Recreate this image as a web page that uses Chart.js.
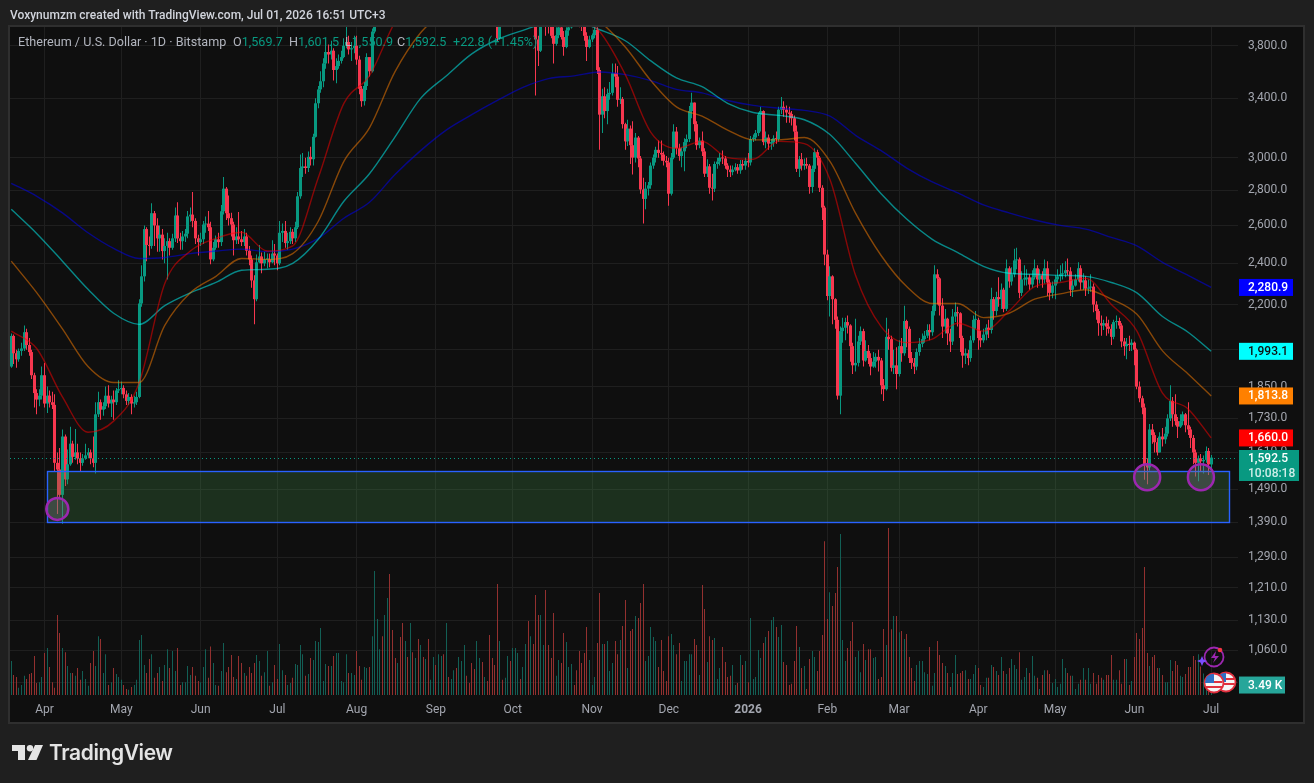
<!DOCTYPE html>
<html>
<head>
<meta charset="utf-8">
<title>ETH/USD daily</title>
<script src="https://cdn.jsdelivr.net/npm/chart.js@4/dist/chart.umd.min.js"></script>
<style>
    html, body { margin: 0; padding: 0; background: #1f1f1f; }
    #wrap { position: relative; width: 1314px; height: 783px; overflow: hidden; font-family: Roboto, sans-serif; }
    #wrap canvas { position: absolute; left: 0; top: 0; }
    .txt { position: absolute; white-space: nowrap; font-size: 12.6px; line-height: 16px; color: #b2b5be; }
    .up { color: #089981; }
    #maker { left: 10px; top: 7px; color: #d1d4dc; font-weight: 500; font-size: 12px; }
    #logoText { left: 49px; top: 739px; font-size: 21px; line-height: 28px; font-weight: 600; color: #e4e4e4; font-family: Inter, sans-serif; letter-spacing: -0.4px; }
    svg { position: absolute; }
</style>
</head>
<body>
<div id="wrap">
    <canvas id="ethChart" width="1314" height="783"></canvas>
    <div class="txt" id="maker">Voxynumzm created with TradingView.com, Jul 01, 2026 16:51 UTC+3</div>
    <div class="txt" style="left:18px;top:34px">Ethereum / U.S. Dollar · 1D · Bitstamp</div>
    <div class="txt" style="left:233px;top:34px">O<span class="up">1,569.7</span></div>
    <div class="txt" style="left:289px;top:34px">H<span class="up">1,601.5</span></div>
    <div class="txt" style="left:345px;top:34px">L<span class="up">1,550.9</span></div>
    <div class="txt" style="left:397px;top:34px">C<span class="up">1,592.5</span></div>
    <div class="txt up" style="left:453px;top:34px">+22.8 (+1.45%)</div>

    <!-- logo mark -->
    <svg style="left:12px;top:745px" width="31" height="16" viewBox="0 0 31 16" fill="#e4e4e4">
        <path d="M0 0h13v15H6V6H0z"/><circle cx="18" cy="3.2" r="3.2"/><path d="M23 0h8l-6.5 15H16z"/>
    </svg>
    <div class="txt" id="logoText">TradingView</div>

    <!-- chart badges near the last bar -->
    <svg style="left:1195px;top:640px" width="45" height="60" viewBox="0 0 45 60">
        <circle cx="19" cy="17" r="9.5" fill="none" stroke="#9c27b0" stroke-width="1.8"/>
        <path d="M21 11l-5 7h4l-2 5 6-7h-4z" fill="#9c27b0"/>
        <circle cx="25" cy="10" r="2.3" fill="#f23645"/>
        <path d="M7 16l1.5 3.5L12 21l-3.5 1.5L7 26l-1.5-3.5L2 21l3.5-1.5z" fill="#7c4dff"/>
        <g>
            <circle cx="31" cy="42" r="9.5" fill="#f5f5f5" stroke="#e0303e" stroke-width="1.8"/>
            <path d="M22.5 39h17M22.5 44h17" stroke="#e0303e" stroke-width="2"/>
            <path d="M23 37a8.6 8.6 0 0 1 8-4v9h-9z" fill="#2f6fc4"/>
        </g>
        <g>
            <circle cx="19" cy="43" r="9.5" fill="#f5f5f5" stroke="#e0303e" stroke-width="1.8"/>
            <path d="M10.5 42h17M10.5 47h17" stroke="#e0303e" stroke-width="2"/>
            <path d="M11 38a8.6 8.6 0 0 1 8-4v9h-9z" fill="#2f6fc4"/>
        </g>
    </svg>
</div>

<script>
// daily candles from 2025-03-19 on, in USD
const firstOpen = 1930;
const closes = [
    2059,1985,1960,1995,2005,2075,2020,1990,1895,1825,
    1800,1815,1895,1785,1815,1790,1780,1575,1553,1472,
    1665,1521,1570,1640,1595,1610,1590,1575,1590,1600,
    1610,1590,1575,1745,1790,1762,1775,1815,1785,1800,
    1790,1835,1840,1845,1820,1795,1810,1785,1790,1810,
    2205,2335,2580,2495,2490,2668,2600,2530,2550,2463,
    2490,2515,2480,2530,2655,2530,2515,2540,2555,2650,
    2660,2625,2530,2510,2525,2605,2610,2590,2420,2480,
    2525,2510,2679,2810,2668,2640,2605,2520,2540,2525,
    2510,2540,2465,2420,2315,2225,2405,2435,2400,2420,
    2420,2405,2450,2440,2400,2560,2570,2505,2515,2565,
    2530,2590,2765,2935,2945,2935,3005,2990,3135,3365,
    3465,3525,3660,3750,3730,3760,3610,3640,3680,3710,
    3800,3830,3770,3780,3800,3690,3470,3380,3490,3710,
    3600,3915,4010,4255,4260,4220,4600,4750,4550,4440,
    4380,4475,4310,4075,4340,4225,4830,4780,4780,4380,
    4600,4510,4510,4360,4370,4390,4310,4325,4450,4300,
    4310,4275,4300,4310,4305,4350,4455,4715,4665,4605,
    4525,4500,4590,4595,4470,4480,4450,4200,4165,4150,
    3860,4030,4010,4140,4215,4145,4350,4485,4515,4490,
    4515,4690,4450,4525,4370,3850,3760,4160,4250,3990,
    3980,3880,3815,3885,3950,3870,3790,3925,3950,4150,
    4120,4100,4020,3980,3880,3790,3850,3885,3930,3610,
    3285,3415,3310,3430,3440,3585,3560,3390,3395,3220,
    3105,3190,3080,3000,3130,2995,2805,2750,2810,2830,
    2950,3000,3050,3030,3020,2980,2970,2780,3000,3170,
    3060,3010,3040,3100,3120,3310,3370,3220,3080,3110,
    3040,2900,2945,2815,2810,2960,2975,3000,2995,2950,
    2925,2910,2925,2940,2920,2960,2950,2980,2970,3120,
    3130,3160,3285,3310,3100,3130,3090,3100,3125,3120,
    3320,3340,3320,3300,3290,3260,3170,2930,2990,2950,
    2960,2950,2820,2930,3035,3000,2815,2700,2445,2240,
    2335,2225,2130,1815,2080,2095,2120,2105,2015,1935,
    1945,2035,2080,1955,1995,1965,1930,1950,1970,1955,
    1855,1840,2055,2045,1925,1935,1900,2015,1985,2125,
    2090,1965,1945,1930,1990,2025,2045,2060,2085,2075,
    2170,2345,2325,2195,2100,2135,2070,2035,2145,2165,
    2160,2050,1975,1985,1965,2040,2130,2130,2050,2040,
    2065,2095,2085,2225,2170,2235,2225,2270,2180,2375,
    2310,2345,2415,2420,2255,2320,2320,2330,2295,2330,
    2375,2320,2340,2320,2375,2305,2255,2290,2320,2335,
    2345,2350,2365,2360,2270,2290,2320,2375,2305,2315,
    2275,2280,2285,2200,2170,2115,2105,2115,2100,2090,
    2055,2120,2125,2105,2035,2015,2025,2020,2030,2000,
    1850,1805,1770,1570,1560,1690,1670,1645,1610,1665,
    1655,1675,1730,1795,1745,1720,1700,1720,1745,1705,
    1690,1660,1610,1575,1590,1580,1585,1615,1569.7,1592.5
];
const highs = [
    2070,2065,2000,2005,2030,2105,2090,2050,2000,1905,
    1840,1840,1930,1945,1850,1835,1830,1820,1610,1625,
    1690,1672,1620,1700,1650,1692,1640,1610,1605,1640,
    1625,1620,1665,1790,1830,1800,1790,1850,1855,1815,
    1835,1845,1875,1870,1855,1835,1825,1820,1815,1830,
    2225,2390,2600,2590,2540,2725,2680,2640,2600,2580,
    2530,2560,2530,2555,2700,2730,2560,2570,2580,2680,
    2700,2790,2640,2550,2560,2625,2650,2680,2620,2510,
    2545,2560,2715,2880,2820,2770,2670,2620,2590,2675,
    2570,2580,2560,2490,2440,2340,2445,2495,2455,2460,
    2450,2450,2520,2500,2450,2625,2610,2625,2560,2590,
    2580,2620,2790,3020,3030,3000,3040,3070,3155,3400,
    3490,3600,3700,3860,3810,3840,3780,3700,3730,3760,
    3860,3960,3880,3830,3880,3880,3720,3490,3520,3740,
    3700,3940,4060,4300,4340,4360,4640,4790,4780,4680,
    4480,4490,4480,4320,4380,4350,4880,4950,4800,4780,
    4620,4650,4600,4530,4410,4500,4400,4400,4490,4480,
    4490,4320,4320,4380,4390,4380,4480,4770,4770,4680,
    4650,4530,4620,4640,4610,4490,4490,4450,4240,4190,
    4180,4050,4040,4150,4250,4230,4360,4510,4540,4590,
    4540,4750,4760,4540,4530,4390,3880,4180,4290,4240,
    4100,4030,4020,3950,4020,4050,3920,3950,4000,4170,
    4250,4200,4170,4030,3990,3910,3880,3900,3960,3950,
    3630,3470,3480,3470,3520,3660,3660,3640,3480,3410,
    3230,3250,3210,3240,3160,3140,3010,2875,2850,2850,
    2970,3020,3070,3110,3110,3040,3010,3000,3030,3220,
    3200,3090,3065,3125,3150,3345,3440,3370,3240,3130,
    3170,3060,2990,2960,2900,2975,3000,3030,3045,3010,
    2965,2950,2950,2965,2960,2985,2985,3000,3030,3140,
    3150,3180,3300,3340,3315,3170,3150,3120,3145,3170,
    3340,3410,3380,3350,3340,3310,3280,3210,3010,3030,
    2995,3000,2960,2950,3060,3050,3010,2830,2710,2470,
    2385,2340,2230,2145,2100,2140,2140,2150,2110,2030,
    2135,2060,2100,2090,2040,2020,1985,1990,1985,2000,
    1965,1880,2140,2090,2060,2000,2010,2040,2050,2195,
    2130,2100,1990,1965,2005,2050,2070,2080,2110,2110,
    2195,2390,2370,2330,2230,2180,2140,2090,2180,2210,
    2190,2165,2060,2005,2000,2060,2150,2170,2140,2080,
    2090,2110,2130,2280,2235,2260,2330,2300,2280,2420,
    2385,2380,2475,2480,2430,2360,2390,2370,2345,2365,
    2420,2390,2370,2360,2420,2410,2320,2310,2340,2370,
    2390,2400,2410,2425,2380,2320,2345,2405,2390,2350,
    2335,2320,2345,2300,2215,2180,2150,2130,2145,2130,
    2110,2130,2150,2140,2115,2050,2050,2060,2045,2035,
    2005,1870,1815,1785,1590,1710,1710,1680,1660,1680,
    1695,1700,1745,1855,1810,1820,1735,1745,1755,1750,
    1790,1700,1670,1620,1600,1605,1600,1630,1625,1601.5
];
const lows = [
    1925,1940,1925,1950,1975,1995,2000,1975,1880,1770,
    1745,1775,1800,1770,1750,1770,1765,1545,1414,1465,
    1385,1500,1505,1565,1575,1585,1570,1545,1565,1585,
    1590,1570,1560,1540,1735,1725,1740,1765,1770,1735,
    1725,1780,1825,1820,1805,1780,1780,1745,1770,1780,
    1805,2190,2310,2410,2440,2475,2490,2460,2460,2420,
    2400,2320,2440,2470,2510,2505,2470,2470,2510,2530,
    2620,2590,2500,2440,2490,2500,2560,2570,2395,2410,
    2470,2480,2490,2660,2630,2600,2540,2440,2500,2500,
    2490,2490,2440,2390,2280,2110,2215,2400,2350,2385,
    2375,2380,2400,2390,2365,2390,2510,2480,2470,2500,
    2500,2510,2580,2750,2880,2900,2910,2950,2950,3130,
    3330,3440,3480,3620,3660,3690,3530,3510,3620,3660,
    3700,3780,3730,3680,3740,3650,3430,3340,3350,3460,
    3560,3590,3900,3990,4160,4150,4200,4590,4450,4400,
    4340,4360,4220,4060,4060,4200,4220,4650,4700,4350,
    4320,4480,4440,4280,4260,4350,4250,4280,4290,4260,
    4270,4250,4240,4270,4280,4280,4330,4430,4630,4560,
    4490,4470,4440,4550,4440,4460,4430,4080,4130,4110,
    3830,3850,3990,3980,4090,4110,4135,4330,4470,4470,
    4450,4490,4430,4400,4320,3420,3640,3750,4100,3880,
    3900,3860,3660,3800,3860,3850,3720,3780,3880,3940,
    4060,3960,3950,3920,3840,3680,3780,3830,3860,3580,
    3050,3160,3260,3220,3390,3420,3480,3340,3360,3190,
    3050,3075,2960,2895,2970,2940,2780,2610,2690,2770,
    2810,2930,2970,3000,2980,2950,2940,2710,2770,2990,
    3020,2980,2940,2915,3060,3100,3260,3170,3050,3060,
    3010,2880,2880,2780,2740,2790,2930,2950,2960,2930,
    2880,2880,2890,2915,2900,2900,2925,2925,2940,2950,
    3100,3110,3140,3170,3080,3060,3050,3050,3070,3090,
    3100,3290,3270,3230,3230,3210,3110,2910,2880,2920,
    2925,2930,2780,2785,2910,2950,2790,2630,2390,2220,
    2145,2110,2090,1800,1745,2030,2040,2070,1950,1900,
    1910,1930,2020,1930,1950,1940,1895,1925,1925,1910,
    1820,1795,1835,2000,1910,1900,1840,1890,1950,1975,
    2010,1945,1920,1900,1915,1975,2010,2030,2050,2040,
    2060,2150,2200,2150,2050,2070,2020,1990,2020,2120,
    2100,1990,1925,1940,1935,1950,2030,2090,2000,2010,
    2030,2040,2050,2070,2130,2150,2190,2180,2165,2170,
    2280,2290,2330,2370,2230,2240,2290,2290,2270,2280,
    2320,2280,2300,2280,2300,2240,2220,2230,2225,2300,
    2310,2320,2330,2340,2240,2235,2285,2310,2270,2270,
    2240,2250,2260,2165,2130,2060,2060,2085,2060,2070,
    2020,2045,2090,2090,2010,1975,1960,1995,1995,1935,
    1840,1790,1745,1520,1505,1550,1640,1610,1600,1610,
    1630,1640,1665,1720,1700,1705,1660,1695,1705,1680,
    1670,1625,1570,1530,1515,1545,1540,1575,1535,1550.9
];
// volume in thousands of ETH
const volumes = [
    11.9,7,6.3,2.5,3.5,6.7,5.6,7.4,7.7,13.7,
    4.2,4.5,6.3,14.7,16.5,9.8,4.5,2.5,28,21.7,
    16.5,15,10.2,7.7,7.7,6.7,9.5,5.3,8.4,5.6,
    3.2,11.2,15.4,10.2,20.6,19.6,7.7,14.3,3.5,4.5,
    9.5,7.4,6.3,5.3,3.5,2.1,1.8,2.8,3.5,5.3,
    19.3,21,10.5,7.7,12.6,14.3,6,7.7,9.8,4.9,
    10.5,16,9.5,15.4,8.4,16.5,3.5,4.5,4.5,10.2,
    7,9.8,6.7,4.9,4.5,9.8,16,6,17,11.2,
    3.5,3.2,8.4,18.2,8,9.8,14,6.3,5.6,13.7,
    11.2,7.7,6.7,9.8,7.7,11.2,14,11.9,6.7,8,
    15.4,3.2,4.5,10.5,5.6,17.9,8.7,7,3.5,4.2,
    6,10.9,10.5,17.5,14.3,6.7,7.4,13,12.3,18.9,
    18.6,23.5,4.9,10.9,10.2,10.2,13.7,14.7,14.7,4.9,
    4.5,14.3,7.7,7.7,7,15.4,10.2,5.3,9.8,9.5,
    9.8,20.6,43.4,26.6,16,20.6,28,34,42.4,22.8,
    13,11.2,20.3,25.2,18.9,13.3,25.2,15,13,19.6,
    17.5,13.3,12.6,19.6,5.3,13.3,10.5,14.3,13.7,14.3,
    25.2,6.3,5.6,8.7,9.5,13.3,11.9,17.5,6.7,4.2,
    11.2,9.1,18.9,13,11.6,6.3,4.9,21,13,10.5,
    38.9,18.9,5.3,6,13.7,11.9,16.5,16.5,14.7,5.6,
    9.8,17.9,25.9,20.6,17.9,35,28,28,17.5,36.8,
    17.5,13,28.7,6.7,12.3,11.2,21.7,18.6,9.8,10.9,
    3.5,8.7,15.4,11.2,14.7,23.8,12.3,3.5,6.3,18.2,
    35.7,17.9,17.9,18.9,8.4,11.2,18.9,14.3,19.3,24.2,
    33.3,9.5,22.4,23.1,27.7,27,32.2,38.9,11.9,13.7,
    23.8,20.3,18.9,9.8,19.3,8.4,4.9,20.6,21.4,17.5,
    14.3,18.2,4.9,11.9,11.9,14.3,14.3,19.6,17.5,7,
    38.5,30.1,11.6,20.6,19.3,20,5.6,9.5,16.8,11.6,
    6.3,6.7,10.5,3.5,4.2,14,10.5,11.9,4.5,27,
    5.6,6.3,15.8,13,18.2,20.3,22.4,26.3,27.3,23.8,
    20.3,24.5,11.6,10.5,3.5,3.9,11.9,24.2,16.8,9.5,
    10.2,2.1,12.6,15.4,13.3,8.4,15.4,21,53.9,26.6,
    36,31.2,35.7,44.8,56.4,19.3,11.9,16.5,18.9,25.6,
    13.3,15.4,8,17.9,12.3,16,16,13,13.3,5.6,
    6.3,23.1,17.5,58.5,23,27.7,27.7,22,22.4,19.6,
    21.4,13.3,9.5,4.9,10.5,11.9,11.9,8,7.4,16.8,
    3.2,7.7,18.9,14,11.2,10.2,7.7,2.8,7.7,14,
    7.4,7.7,8.4,8.7,5.6,5.6,7.4,10.5,9.5,3.5,
    2.8,6,6,10.5,9.8,8.4,7,13.3,8.4,7.4,
    9.5,12.6,10.5,9.1,15,5.3,6.3,9.5,7.7,13.7,
    6.7,6,2.1,7,8.7,8.7,7.4,4.2,5.6,2.8,
    3.9,12.6,9.5,7.7,6.7,6.7,2.1,3.9,5.3,9.5,
    5.3,9.5,3.9,7.7,3.9,7,6,5.3,7,7,
    14,5.3,5.3,8.7,3.9,12.6,12.6,3.5,4.9,13.3,
    21.7,19.6,23.5,44.8,14.7,10.2,13.3,14,9.5,9.5,
    7,4.5,4.5,12.3,8.4,11.9,10.5,6.7,6.3,7.4,
    9.8,9.8,13.7,12.3,14.3,10,7.5,6.4,5.8,3.49
];

// moving averages, one reading every ten bars plus the last bar
const maBars = [0,10,20,30,40,50,60,70,80,90,100,110,120,130,140,150,160,170,180,190,200,210,220,230,240,250,260,270,280,290,300,310,320,330,340,350,360,370,380,390,400,410,420,430,440,450,460,469];
const maRed = [2080,2004,1810,1680,1720,1865,2300,2463,2530,2563,2463,2490,2875,3364,3567,3996,4300,4400,4420,4420,4350,4200,4050,3914,3575,3165,3060,3105,3000,2990,3105,3090,2865,2340,2100,2030,2045,2115,2080,2170,2285,2305,2325,2200,2080,1825,1765,1660];
const maOrange = [2411,2255,2090,1930,1866,1866,2105,2255,2335,2425,2420,2450,2623,2977,3195,3597,3905,4100,4300,4350,4350,4250,4150,4000,3790,3530,3340,3275,3180,3115,3115,3130,2977,2668,2440,2285,2205,2205,2140,2160,2225,2250,2270,2225,2155,1995,1900,1813.8];
const maTeal = [2690,2555,2411,2272,2160,2110,2195,2255,2305,2365,2370,2400,2525,2736,2900,3135,3400,3565,3735,3850,3925,3990,4000,3930,3840,3680,3550,3485,3365,3300,3280,3250,3150,2965,2780,2635,2525,2455,2385,2350,2345,2340,2335,2305,2255,2145,2075,1993.1];
const maBlue = [2842,2765,2670,2560,2477,2425,2430,2450,2463,2473,2460,2473,2530,2640,2730,2895,3045,3180,3285,3385,3480,3545,3565,3595,3575,3530,3465,3440,3385,3350,3330,3315,3275,3145,3045,2935,2850,2785,2715,2670,2630,2600,2580,2535,2490,2405,2340,2280.9];

const priceTicks = [3800,3400,3000,2800,2600,2400,2200,2000,1850,1730,1610,1490,1390,1290,1210,1130,1060,990];
const monthNames = ['2026','Feb','Mar','Apr','May','Jun','Jul','Aug','Sep','Oct','Nov','Dec'];

// demand zone and the three marked lows
const zoneTop = 1547, zoneBottom = 1390, zoneFromBar = 14, zoneToBar = 476;
const ringBars = [18, 444, 465];
const ringPrices = [1429, 1528, 1528];

const upColor = '#089981', downColor = '#f7374f';
const upVolColor = '#125f55', downVolColor = '#93302f';

// one slot per day, with some empty room after the last bar
const categories = [];
const monthLabels = {};
for (let i = 0; i < 480; i++) {
    const d = new Date(Date.UTC(2025, 2, 19 + i));
    categories.push(d.toISOString().slice(0, 10));
    if (d.getUTCDate() === 1) monthLabels[i] = monthNames[d.getUTCMonth()];
}
const monthTicks = Object.keys(monthLabels).map(Number);

const opens = [firstOpen, ...closes.slice(0, -1)];
const isUp = closes.map((c, i) => c >= opens[i]);
const candleColors = isUp.map(u => u ? upColor : downColor);
const volumeColors = isUp.map(u => u ? upVolColor : downVolColor);
const lastClose = closes[closes.length - 1];

function maLine(values, color) {
    return {
        type: 'line',
        yAxisID: 'y',
        data: values.map((v, k) => ({ x: categories[maBars[k]], y: v })),
        borderColor: color,
        borderWidth: 1.4,
        pointRadius: 0,
        cubicInterpolationMode: 'monotone',
        order: 1
    };
}

function badge(ctx, x, y, w, h, bg, fg, text) {
    ctx.fillStyle = bg;
    ctx.fillRect(x, y - h / 2, w, h);
    ctx.fillStyle = fg;
    ctx.font = '500 12px Roboto, sans-serif';
    ctx.textAlign = 'left';
    ctx.textBaseline = 'middle';
    ctx.fillText(text, x + 9, y + 0.5);
}

// keeps the thin bars on whole pixels
const snapBars = {
    id: 'snapBars',
    afterDatasetsUpdate(chart) {
        chart.data.datasets.forEach((ds, i) => {
            if (ds.type === 'line') return;
            chart.getDatasetMeta(i).data.forEach(el => {
                el.x = Math.floor(el.x) + 0.5;
            });
        });
    }
};

const panel = {
    id: 'panel',
    beforeDraw(chart) {
        const ctx = chart.ctx;
        ctx.fillStyle = '#0f0f0f';
        ctx.fillRect(10, 27, 1293, 695);
        ctx.strokeStyle = '#2f2f2f';
        ctx.lineWidth = 2;
        ctx.strokeRect(9, 26, 1295, 697);
    }
};

const overlays = {
    id: 'overlays',
    afterDatasetsDraw(chart) {
        const ctx = chart.ctx, x = chart.scales.x, y = chart.scales.y, v = chart.scales.vol;
        const area = chart.chartArea;
        ctx.save();

        // zone rectangle
        const zx = Math.round(x.getPixelForValue(zoneFromBar)) + 0.5, zw = Math.round(x.getPixelForValue(zoneToBar)) + 0.5 - zx;
        const zy = Math.round(y.getPixelForValue(zoneTop)) + 0.5, zh = Math.round(y.getPixelForValue(zoneBottom)) + 0.5 - zy;
        ctx.fillStyle = 'rgba(65,135,72,0.28)';
        ctx.fillRect(zx, zy, zw, zh);
        ctx.strokeStyle = '#2962ff';
        ctx.lineWidth = 1.4;
        ctx.strokeRect(zx, zy, zw, zh);

        // rings round the lows
        ringBars.forEach((bar, i) => {
            ctx.beginPath();
            ctx.arc(x.getPixelForValue(bar), y.getPixelForValue(ringPrices[i]), i === 0 ? 11 : 13, 0, Math.PI * 2);
            ctx.fillStyle = 'rgba(120,123,134,0.35)';
            ctx.fill();
            ctx.strokeStyle = '#9c27b0';
            ctx.lineWidth = 2.5;
            ctx.stroke();
        });

        // last price line
        const py = Math.round(y.getPixelForValue(lastClose)) + 0.5;
        ctx.strokeStyle = upColor;
        ctx.lineWidth = 1;
        ctx.setLineDash([1, 3]);
        ctx.beginPath();
        ctx.moveTo(area.left, py);
        ctx.lineTo(area.right, py);
        ctx.stroke();
        ctx.setLineDash([]);

        // price scale badges
        const bx = area.right + 1;
        badge(ctx, bx, y.getPixelForValue(maBlue[47]), 54, 17, '#0000ff', '#ffffff', '2,280.9');
        badge(ctx, bx, y.getPixelForValue(maTeal[47]), 54, 17, '#00ffff', '#0f0f0f', '1,993.1');
        badge(ctx, bx, y.getPixelForValue(maOrange[47]), 54, 17, '#ff8000', '#ffffff', '1,813.8');
        badge(ctx, bx, y.getPixelForValue(maRed[47]), 54, 17, '#ff0000', '#ffffff', '1,660.0');

        ctx.fillStyle = upColor;
        ctx.fillRect(bx, py - 8.5, 60, 31);
        ctx.fillStyle = '#ffffff';
        ctx.font = '500 12px Roboto, sans-serif';
        ctx.textAlign = 'left';
        ctx.textBaseline = 'middle';
        ctx.fillText('1,592.5', bx + 9, py);
        ctx.fillStyle = '#cfeee8';
        ctx.fillText('10:08:18', bx + 9, py + 15);

        badge(ctx, bx, v.getPixelForValue(volumes[469]), 46, 17, '#26a69a', '#ffffff', '3.49 K');
        ctx.restore();
    }
};

const candleData = {
    labels: categories,
    datasets: [
        maLine(maRed, 'rgba(255,0,0,0.5)'),
        maLine(maOrange, 'rgba(255,128,0,0.5)'),
        maLine(maTeal, 'rgba(0,255,255,0.5)'),
        maLine(maBlue, 'rgba(0,0,255,0.5)'),
        {
            yAxisID: 'y',
            data: closes.map((c, i) => [opens[i], c]),
            backgroundColor: candleColors,
            barThickness: 3,
            inflateAmount: 0,
            minBarLength: 1,
            grouped: false,
            order: 2
        },
        {
            yAxisID: 'y',
            data: closes.map((c, i) => [lows[i], highs[i]]),
            backgroundColor: candleColors,
            barThickness: 1,
            inflateAmount: 0,
            grouped: false,
            order: 3
        },
        {
            yAxisID: 'vol',
            data: volumes,
            backgroundColor: volumeColors,
            barThickness: 1,
            inflateAmount: 0,
            grouped: false,
            order: 4
        }
    ]
};

new Chart(document.getElementById('ethChart').getContext('2d'), {
    type: 'bar',
    data: candleData,
    plugins: [panel, snapBars, overlays],
    options: {
        responsive: false,
        maintainAspectRatio: false,
        animation: false,
        events: [],
        layout: { padding: { left: 10, top: 27, right: 0, bottom: 0 } },
        plugins: { legend: { display: false }, tooltip: { enabled: false } },
        scales: {
            x: {
                type: 'category',
                offset: true,
                border: { display: false },
                grid: { color: '#1f1f1f', offset: false, drawTicks: false },
                afterBuildTicks(scale) {
                    scale.ticks = monthTicks.map(i => ({ value: i }));
                },
                afterFit(scale) {
                    scale.height = 88;
                },
                ticks: {
                    autoSkip: false,
                    maxRotation: 0,
                    padding: 8,
                    color: '#a3a6af',
                    font: ctx => ({
                        family: 'Roboto, sans-serif',
                        size: 12,
                        weight: ctx.tick && ctx.tick.label === '2026' ? 'bold' : 'normal'
                    }),
                    callback: value => monthLabels[value]
                }
            },
            y: {
                type: 'logarithmic',
                position: 'right',
                min: 964.7,
                max: 3953,
                bounds: 'data',
                border: { display: false },
                grid: { color: '#1f1f1f', drawTicks: false },
                afterBuildTicks(scale) {
                    scale.ticks = priceTicks.map(p => ({ value: p }));
                },
                afterFit(scale) {
                    scale.width = 76;
                },
                ticks: {
                    autoSkip: false,
                    padding: 10,
                    color: '#a3a6af',
                    font: { family: 'Roboto, sans-serif', size: 12 },
                    callback: value => value.toLocaleString('en-US', { minimumFractionDigits: 1 })
                }
            },
            vol: {
                type: 'linear',
                display: false,
                min: 0,
                max: 234
            }
        }
    }
});
</script>
</body>
</html>
